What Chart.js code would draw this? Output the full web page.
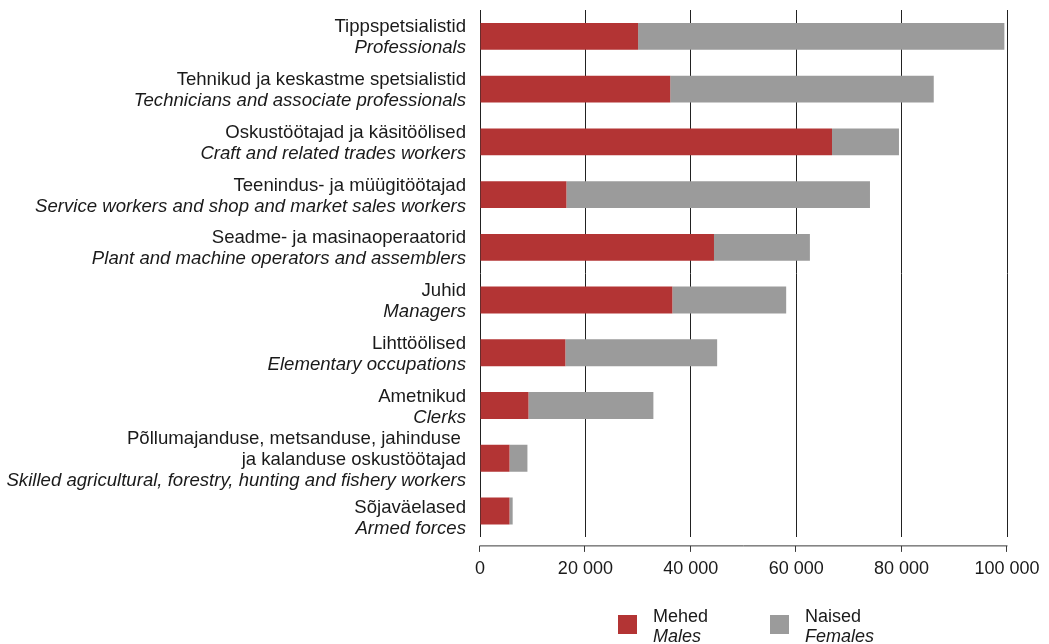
<!DOCTYPE html>
<html lang="et">
  <head>
    <meta charset="UTF-8" />
    <title>Hõivatud ametiala ja soo järgi</title>
    <script src="https://cdn.jsdelivr.net/npm/chart.js"></script>
    <style>
      html, body {
        margin: 0;
        padding: 0;
        background: #fff;
      }
      #chart-container {
        width: 1049px;
        height: 644px;
      }
    </style>
  </head>
  <body>
    <div id="chart-container">
      <canvas id="occChart"></canvas>
    </div>
    <script>
      // Occupation groups, Estonian name (may be several lines) and English name
      const groupsEt = [
        "Tippspetsialistid",
        "Tehnikud ja keskastme spetsialistid",
        "Oskustöötajad ja käsitöölised",
        "Teenindus- ja müügitöötajad",
        "Seadme- ja masinaoperaatorid",
        "Juhid",
        "Lihttöölised",
        "Ametnikud",
        ["Põllumajanduse, metsanduse, jahinduse ", "ja kalanduse oskustöötajad"],
        "Sõjaväelased",
      ];
      const groupsEn = [
        "Professionals",
        "Technicians and associate professionals",
        "Craft and related trades workers",
        "Service workers and shop and market sales workers",
        "Plant and machine operators and assemblers",
        "Managers",
        "Elementary occupations",
        "Clerks",
        "Skilled agricultural, forestry, hunting and fishery workers",
        "Armed forces",
      ];

      const males = [30000, 36100, 66800, 16400, 44400, 36500, 16200, 9200, 5600, 5600];
      const females = [69500, 50000, 12700, 57600, 18200, 21600, 28800, 23700, 3400, 600];

      const seriesEt = ["Mehed", "Naised"];
      const seriesEn = ["Males", "Females"];
      const xTicks = [0, 20000, 40000, 60000, 80000, 100000];

      const FONT = "'Liberation Sans', Arial, sans-serif";
      const TEXT = "#1a1a1a";

      // Two-language category labels: plain Estonian lines, italic English line
      const groupLabels = {
        id: "groupLabels",
        afterDraw(chart) {
          const ctx = chart.ctx;
          const y = chart.scales.y;
          const right = chart.chartArea.left - 14;
          const lineH = 21;
          const last = groupsEt.length - 1;
          ctx.save();
          ctx.textAlign = "right";
          ctx.textBaseline = "alphabetic";
          ctx.fillStyle = TEXT;
          groupsEt.forEach((et, i) => {
            const lines = (Array.isArray(et) ? et : [et]).map((t) => ({ t, it: false }));
            lines.push({ t: groupsEn[i], it: true });
            // bottom label is pushed down a bit to clear the three-line one above
            const cy = y.getPixelForValue(i) + (i === last ? 6 : 0);
            lines.forEach((l, k) => {
              ctx.font = (l.it ? "italic " : "") + "18.6px " + FONT;
              ctx.fillText(l.t, right, cy + (k - (lines.length - 1) / 2) * lineH + 6.5);
            });
          });
          ctx.restore();
        },
      };

      // x axis line sits a little below the plot, with short ticks
      const xAxisLine = {
        id: "xAxisLine",
        afterDraw(chart) {
          const ctx = chart.ctx;
          const x = chart.scales.x;
          const ay = chart.chartArea.bottom + 8.5;
          ctx.save();
          ctx.strokeStyle = "#3a3a3a";
          ctx.lineWidth = 1;
          ctx.beginPath();
          ctx.moveTo(Math.round(x.getPixelForValue(0)) - 0.5, ay);
          ctx.lineTo(Math.round(x.getPixelForValue(100000)) + 0.5, ay);
          xTicks.forEach((v) => {
            const px = Math.round(x.getPixelForValue(v)) - 0.5;
            ctx.moveTo(px, ay);
            ctx.lineTo(px, ay + 6);
          });
          ctx.stroke();
          ctx.restore();
        },
      };

      // legend with Estonian + italic English names
      const twoLineLegend = {
        id: "twoLineLegend",
        afterDraw(chart) {
          const ctx = chart.ctx;
          const startX = 618;
          const step = 152;
          const top = 615;
          ctx.save();
          ctx.textAlign = "left";
          ctx.textBaseline = "alphabetic";
          chart.data.datasets.forEach((ds, i) => {
            const lx = startX + i * step;
            ctx.fillStyle = ds.backgroundColor;
            ctx.fillRect(lx, top, 19, 19);
            ctx.fillStyle = TEXT;
            ctx.font = "18px " + FONT;
            ctx.fillText(seriesEt[i], lx + 35, top + 7);
            ctx.font = "italic 18px " + FONT;
            ctx.fillText(seriesEn[i], lx + 35, top + 27);
          });
          ctx.restore();
        },
      };

      const ctx = document.getElementById("occChart").getContext("2d");
      new Chart(ctx, {
        type: "bar",
        data: {
          labels: groupsEn,
          datasets: [
            { label: seriesEn[0], data: males, backgroundColor: "#b33434" },
            { label: seriesEn[1], data: females, backgroundColor: "#9b9b9b" },
          ],
        },
        options: {
          indexAxis: "y",
          responsive: true,
          maintainAspectRatio: false,
          animation: false,
          layout: { padding: { left: 480, top: 10, right: 42, bottom: 64 } },
          datasets: {
            bar: { categoryPercentage: 1, barPercentage: 0.51 },
          },
          plugins: {
            legend: { display: false },
            tooltip: { enabled: false },
          },
          scales: {
            x: {
              stacked: true,
              min: 0,
              max: 100000,
              afterBuildTicks: (axis) => {
                axis.ticks = xTicks.map((v) => ({ value: v }));
              },
              border: { display: false },
              // tick marks kept invisible, they only make room above the labels
              grid: { color: "#222", lineWidth: 1, tickLength: 21, tickColor: "rgba(0,0,0,0)" },
              ticks: {
                padding: 0,
                color: TEXT,
                font: { family: FONT, size: 18 },
                callback: (v) => String(v).replace(/\B(?=(\d{3})+(?!\d))/g, " "),
              },
            },
            y: {
              stacked: true,
              display: false,
            },
          },
        },
        plugins: [groupLabels, xAxisLine, twoLineLegend],
      });
    </script>
  </body>
</html>
